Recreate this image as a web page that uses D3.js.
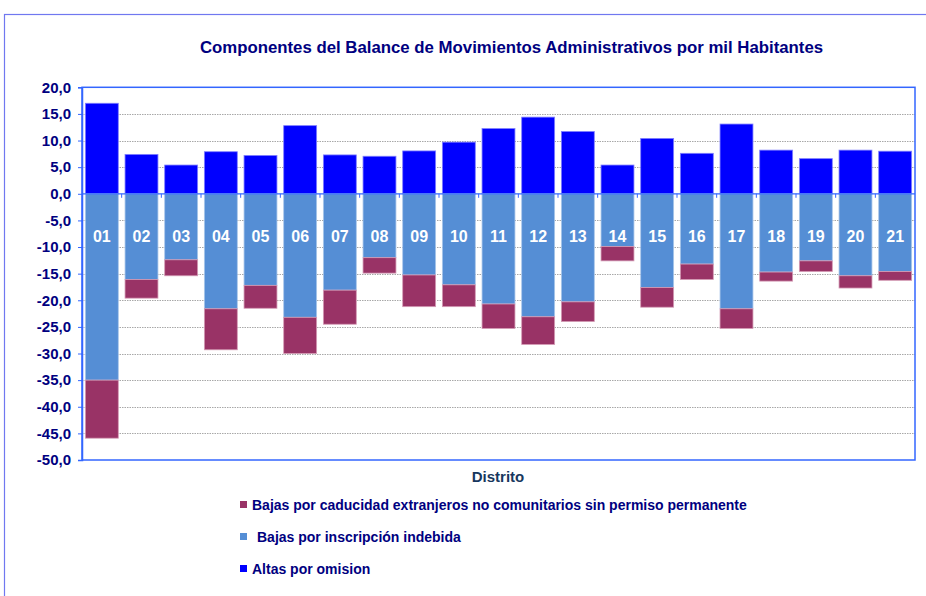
<!DOCTYPE html>
<html>
<head>
<meta charset="utf-8">
<script src="https://cdn.jsdelivr.net/npm/d3@7"></script>
<style>
  body { margin: 0; background: #fff; }
  svg { font-family: "Liberation Sans", Arial, sans-serif; }
</style>
</head>
<body>
<div id="chart"></div>
<script>
const distritos = ["01","02","03","04","05","06","07","08","09","10","11","12","13","14","15","16","17","18","19","20","21"];
const altasOmision = [17.0, 7.4, 5.4, 7.9, 7.2, 12.8, 7.3, 7.05, 8.05, 9.7, 12.25, 14.4, 11.7, 5.4, 10.4, 7.6, 13.1, 8.2, 6.6, 8.2, 8.0];
const bajasIndebida = [-35.0, -16.1, -12.4, -21.6, -17.2, -23.2, -18.1, -12.0, -15.25, -17.1, -20.7, -23.1, -20.3, -9.9, -17.6, -13.2, -21.6, -14.7, -12.6, -15.4, -14.6];
const bajasCaducidad = [-10.9, -3.5, -3.0, -7.7, -4.3, -6.8, -6.4, -2.9, -5.95, -4.1, -4.6, -5.2, -3.7, -2.7, -3.7, -2.9, -3.7, -1.7, -2.0, -2.3, -1.65];
const yTicks = [20, 15, 10, 5, 0, -5, -10, -15, -20, -25, -30, -35, -40, -45, -50];

const W = 926, H = 596;
const mLeft = 82, mRight = 915, mTop = 87.3, mBottom = 460;
const navy = "#000080", axisBlue = "#3366ff";

const svg = d3.select("#chart").append("svg").attr("width", W).attr("height", H);

// outer frame
svg.append("rect").attr("x", 4.5).attr("y", 14.5).attr("width", 1000).attr("height", 1000)
  .attr("fill", "none").attr("stroke", "#7078f0").attr("stroke-width", 1.2);

svg.append("text").attr("x", 511.5).attr("y", 53).attr("text-anchor", "middle")
  .attr("font-size", 16.8).attr("font-weight", "bold").attr("fill", navy)
  .text("Componentes del Balance de Movimientos Administrativos por mil Habitantes");

const x = d3.scaleBand().domain(distritos).range([mLeft, mRight]).paddingInner(0.17).paddingOuter(0.085);
const y = d3.scaleLinear().domain([-50, 20]).range([mBottom, mTop]);

// gridlines
svg.append("g").selectAll("line").data(yTicks.filter(d => d !== 20 && d !== -50 && d !== 0)).join("line")
  .attr("x1", mLeft).attr("x2", mRight)
  .attr("y1", d => Math.round(y(d)) + 0.5).attr("y2", d => Math.round(y(d)) + 0.5)
  .attr("stroke", "#a8a8a8").attr("stroke-dasharray", "1.5,1");

// plot area border
svg.append("rect").attr("x", mLeft).attr("y", mTop).attr("width", mRight - mLeft).attr("height", mBottom - mTop)
  .attr("fill", "none").attr("stroke", axisBlue).attr("stroke-width", 1.5);

// bars
const rows = distritos.map((d, i) => ({ d, altas: altasOmision[i], ind: bajasIndebida[i], cad: bajasCaducidad[i] }));
const g = svg.append("g");
g.selectAll(".altas").data(rows).join("rect")
  .attr("x", r => x(r.d)).attr("width", x.bandwidth())
  .attr("y", r => y(r.altas)).attr("height", r => y(0) - y(r.altas))
  .attr("fill", "#0000ff").attr("stroke", "#7f7fff").attr("stroke-width", 0.8);
g.selectAll(".ind").data(rows).join("rect")
  .attr("x", r => x(r.d)).attr("width", x.bandwidth())
  .attr("y", y(0)).attr("height", r => y(r.ind) - y(0))
  .attr("fill", "#558ed5").attr("stroke", "#a9c6ea").attr("stroke-width", 0.8);
g.selectAll(".cad").data(rows).join("rect")
  .attr("x", r => x(r.d)).attr("width", x.bandwidth())
  .attr("y", r => y(r.ind)).attr("height", r => y(r.ind + r.cad) - y(r.ind))
  .attr("fill", "#993366").attr("stroke", "#d49bb5").attr("stroke-width", 0.8);

// zero axis with ticks at band boundaries
const zeroY = y(0);
svg.append("line").attr("x1", mLeft).attr("x2", mRight).attr("y1", zeroY).attr("y2", zeroY)
  .attr("stroke", axisBlue).attr("stroke-width", 1.3);
svg.append("g").selectAll("line").data(distritos.slice(1)).join("line")
  .attr("x1", d => x(d) - x.step() * x.paddingInner() / 2).attr("x2", d => x(d) - x.step() * x.paddingInner() / 2)
  .attr("y1", zeroY).attr("y2", zeroY + 4).attr("stroke", axisBlue).attr("stroke-width", 1);

// category labels
svg.append("g").selectAll("text").data(distritos).join("text")
  .attr("x", d => x(d) + x.bandwidth() / 2).attr("y", 242)
  .attr("text-anchor", "middle").attr("font-size", 16).attr("font-weight", "bold").attr("fill", "#fff")
  .text(d => d);

// y axis
const yAxis = d3.axisLeft(y).tickValues(yTicks).tickSize(4)
  .tickFormat(d => d3.format(".1f")(d).replace(".", ",").replace("−", "-"));
const ya = svg.append("g").attr("transform", `translate(${mLeft},0)`).call(yAxis);
ya.select(".domain").attr("stroke", axisBlue).attr("stroke-width", 1.5);
ya.selectAll(".tick line").attr("stroke", axisBlue);
ya.selectAll("text").attr("font-size", 15).attr("font-weight", "bold").attr("fill", navy)
  .attr("font-family", "Liberation Sans, Arial, sans-serif").attr("x", -11);

svg.append("text").attr("x", 498).attr("y", 482).attr("text-anchor", "middle")
  .attr("font-size", 15).attr("font-weight", "bold").attr("fill", "#17375e").text("Distrito");

// legend
const legend = [
  { label: "Bajas por caducidad extranjeros no comunitarios sin permiso permanente", color: "#993366", y: 505, tx: 252 },
  { label: "Bajas por inscripción indebida", color: "#558ed5", y: 537, tx: 257 },
  { label: "Altas por omision", color: "#0000ff", y: 569, tx: 252 }
];
const lg = svg.append("g").selectAll("g").data(legend).join("g");
lg.append("rect").attr("x", 240).attr("y", d => d.y - 4).attr("width", 7).attr("height", 7).attr("fill", d => d.color);
lg.append("text").attr("x", d => d.tx).attr("y", d => d.y + 5)
  .attr("font-size", 14).attr("font-weight", "bold").attr("fill", navy).text(d => d.label);
</script>
</body>
</html>
